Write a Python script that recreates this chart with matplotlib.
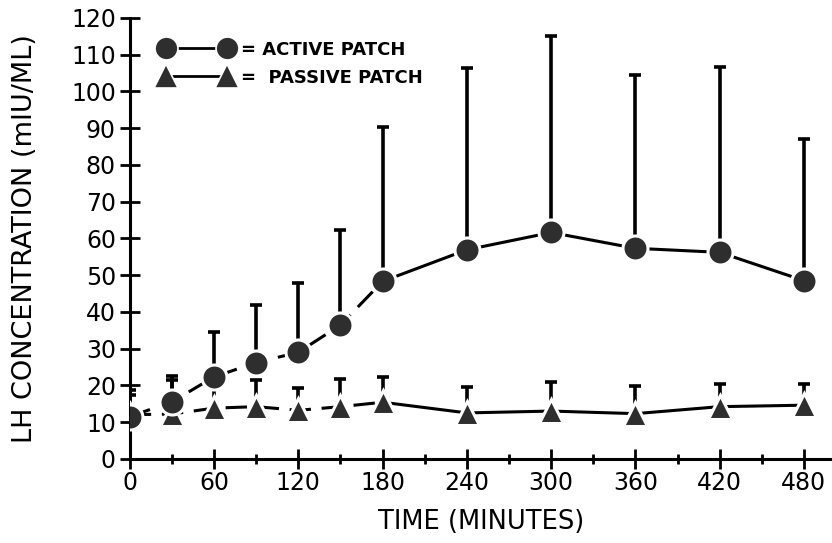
import numpy as np
import matplotlib.pyplot as plt
from matplotlib.lines import Line2D
from matplotlib.ticker import MultipleLocator

plt.rcParams['font.family'] = ['DejaVu Sans']

# time points (minutes)
t = [0, 30, 60, 90, 120, 150, 180, 240, 300, 360, 420, 480]

# active patch: mean and top of error bar
active_mean = [11.5, 15.5, 22.3, 26.2, 29.0, 36.4, 48.3, 56.9, 61.6, 57.3, 56.2, 48.5]
active_top = [18.8, 22.5, 34.5, 41.8, 47.9, 62.3, 90.3, 106.3, 115.2, 104.5, 106.7, 87.0]

# passive patch: mean and top of error bar
passive_mean = [12.0, 12.2, 13.8, 14.2, 13.2, 14.2, 15.4, 12.5, 13.0, 12.3, 14.2, 14.6]
passive_top = [17.5, 21.5, 19.5, 21.4, 19.4, 21.6, 22.2, 19.6, 21.0, 19.7, 20.5, 20.5]

dark = '#2e2e2e'

fig = plt.figure(figsize=(8.32, 5.43), dpi=100)
ax = fig.add_axes([0.156, 0.155, 0.844, 0.812])


def draw_series(mean, top, marker, ms):
    mean = np.array(mean)
    err = np.array(top) - mean
    ax.errorbar(t, mean, yerr=[np.zeros_like(err), err], fmt='none',
                ecolor='black', elinewidth=2.6, capsize=4, capthick=2.6, zorder=2)
    # dashed up to 180 min, solid afterwards
    ax.plot(t[:7], mean[:7], color='black', lw=2.2, dashes=(7, 3.5), zorder=3)
    ax.plot(t[6:], mean[6:], color='black', lw=2.2, zorder=3)
    ax.plot(t, mean, ls='none', marker=marker, ms=ms, mfc=dark,
            mec='white', mew=2.2, zorder=4)


draw_series(passive_mean, passive_top, '^', 17)
draw_series(active_mean, active_top, 'o', 18)

ax.set_xlim(0, 500)
ax.set_ylim(0, 120)
ax.xaxis.set_major_locator(MultipleLocator(60))
ax.xaxis.set_minor_locator(MultipleLocator(30))
ax.yaxis.set_major_locator(MultipleLocator(10))

for s in ['top', 'right']:
    ax.spines[s].set_visible(False)
for s in ['left', 'bottom']:
    ax.spines[s].set_linewidth(2.2)

ax.tick_params(axis='both', which='major', direction='inout', length=14, width=2,
               labelsize=17, pad=3)
ax.tick_params(axis='x', which='minor', direction='inout', length=7, width=2)
ax.tick_params(axis='x', which='major', pad=2)

ax.set_xlabel('TIME (MINUTES)', fontsize=18.5, labelpad=10)
ax.set_ylabel('LH CONCENTRATION (mIU/ML)', fontsize=19.5, labelpad=24)

handles = [
    Line2D([], [], color='black', lw=2, marker='o', ms=16.5, mfc=dark, mec='white', mew=1.2),
    Line2D([], [], color='black', lw=2, marker='^', ms=17, mfc=dark, mec='white', mew=1.2),
]
leg = ax.legend(handles, ['= ACTIVE PATCH', '=  PASSIVE PATCH'], loc='upper left',
                bbox_to_anchor=(0.02, 0.985), frameon=False, numpoints=2,
                handlelength=4.0, handletextpad=0.5, labelspacing=0.55,
                prop={'size': 13, 'weight': 'bold'})

fig.savefig('out.png', dpi=100)
